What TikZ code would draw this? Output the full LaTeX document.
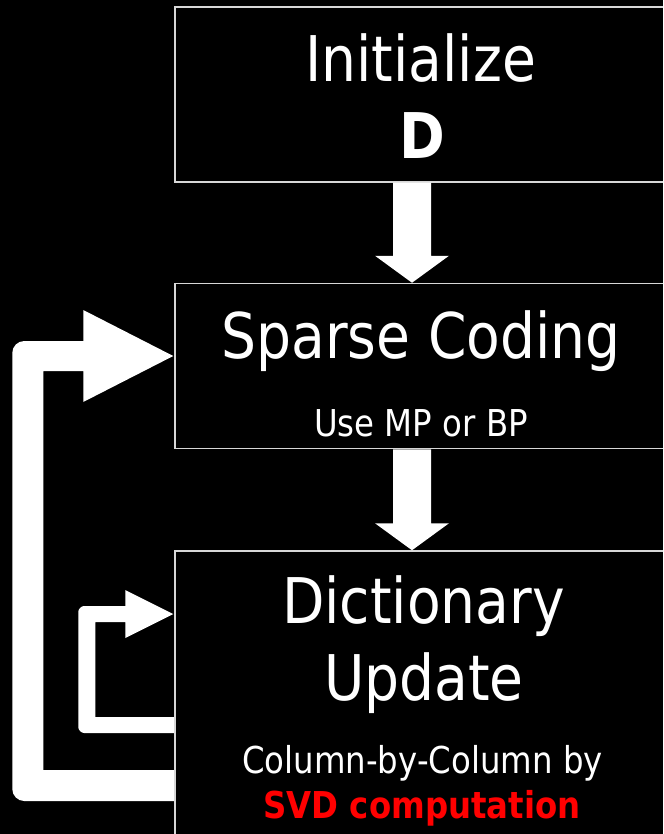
\documentclass[tikz,border=0pt]{standalone}
\usepackage{fontspec}
\setmainfont{DejaVu Sans}[FakeStretch=0.875]
\usetikzlibrary{calc}
\definecolor{boxline}{RGB}{215,215,215}
\definecolor{svdred}{RGB}{255,0,0}

% white block arrow pointing down, from #1 to #2
\newcommand\downblock[2]{%
  \fill[white] let \p1=(#1), \p2=(#2) in
    (\x1-19pt,\y1) -- (\x1+19pt,\y1) -- (\x1+19pt,\y2+27pt) -- (\x1+37pt,\y2+27pt)
    -- (\x2,\y2) -- (\x1-37pt,\y2+27pt) -- (\x1-19pt,\y2+27pt) -- cycle;}

\tikzset{
  stagebox/.style={draw=boxline, line width=1.5pt, inner sep=0pt, minimum width=494pt},
  bigtext/.style={text=white, inner sep=0pt, anchor=base, font=\fontsize{63}{70}\selectfont},
  smalltext/.style={text=white, inner sep=0pt, anchor=base, font=\fontsize{37}{42}\selectfont},
}

\begin{document}
\begin{tikzpicture}[x=1pt,y=-1pt]
  \fill[black] (0,0) rectangle (663,834);
  \useasboundingbox (0,0) rectangle (663,834);
  \clip (0,0) rectangle (663,834);

  % stage boxes
  \node[stagebox, minimum height=175pt] (init) at (422,94.5) {};
  \node[stagebox, minimum height=165pt] (sparse) at (422,366) {};
  \node[stagebox, minimum height=349pt] (dict) at (422,725.5) {};

  % box texts
  \node[bigtext] (tinit) at (420.5,82) {Initialize};
  \node[bigtext, font=\fontsize{63}{70}\selectfont\bfseries] (tD) at (422.5,159) {D};
  \node[bigtext] (tsparse) at (421,358) {Sparse Coding};
  \node[smalltext] (tmp) at (421,436) {Use MP or BP};
  \node[bigtext] (tdict) at (423.5,623) {Dictionary};
  \node[bigtext] (tupd) at (424,700) {Update};
  \node[smalltext] (tcol) at (422.5,773) {Column-by-Column by};
  \node[smalltext, text=svdred, font=\fontsize{37}{42}\selectfont\bfseries] (tsvd) at (422,818) {SVD computation};

  % forward arrows
  \coordinate (a1s) at ([xshift=-10pt]init.south);
  \coordinate (a1e) at ([xshift=-10pt]sparse.north);
  \coordinate (a2s) at ([xshift=-10pt]sparse.south);
  \coordinate (a2e) at ([xshift=-10pt]dict.north);
  \downblock{a1s}{a1e}
  \downblock{a2s}{a2e}

  % outer loop: dictionary update back to sparse coding
  \coordinate (L1s) at ([yshift=-60pt]dict.west);
  \coordinate (L1e) at ([xshift=-1pt,yshift=10pt]sparse.west);
  \fill[white] let \p1=(L1s), \p2=(L1e) in
    (\x1,\y1+15.5pt) -- (\x1-131pt,\y1+15.5pt) -- (\x1-131pt,\y2-15pt)
    -- (\x2-90pt,\y2-15pt) -- (\x2-90pt,\y2-46pt) -- (\x2,\y2)
    -- (\x2-90pt,\y2+46pt) -- (\x2-90pt,\y2+15pt)
    -- (\x1-150pt,\y2+15pt) .. controls (\x1-156.6pt,\y2+15pt) and (\x1-162pt,\y2+9.6pt) .. (\x1-162pt,\y2+3pt)
    -- (\x1-162pt,\y1-3.5pt) .. controls (\x1-162pt,\y1-10.1pt) and (\x1-156.6pt,\y1-15.5pt) .. (\x1-150pt,\y1-15.5pt)
    -- (\x1,\y1-15.5pt) -- cycle;

  % inner loop: dictionary update repeated column by column
  \coordinate (S1s) at ([yshift=0.5pt]dict.west);
  \coordinate (S1e) at ([xshift=-1pt,yshift=111.5pt]dict.west);
  \fill[white] let \p1=(S1s), \p2=(S1e) in
    (\x1,\y1+8pt) -- (\x1-79pt,\y1+8pt) -- (\x1-79pt,\y2-8pt)
    -- (\x2-48pt,\y2-8pt) -- (\x2-48pt,\y2-24pt) -- (\x2,\y2)
    -- (\x2-48pt,\y2+24pt) -- (\x2-48pt,\y2+8pt)
    -- (\x1-90pt,\y2+8pt) .. controls (\x1-93.3pt,\y2+8pt) and (\x1-96pt,\y2+4.7pt) .. (\x1-96pt,\y2+2pt)
    -- (\x1-96pt,\y1-2pt) .. controls (\x1-96pt,\y1-4.7pt) and (\x1-93.3pt,\y1-8pt) .. (\x1-90pt,\y1-8pt)
    -- (\x1,\y1-8pt) -- cycle;

  % box outlines on top of the loop ends
  \draw[boxline, line width=1.5pt] (dict.north west) -- (dict.south west);
\end{tikzpicture}
\end{document}
